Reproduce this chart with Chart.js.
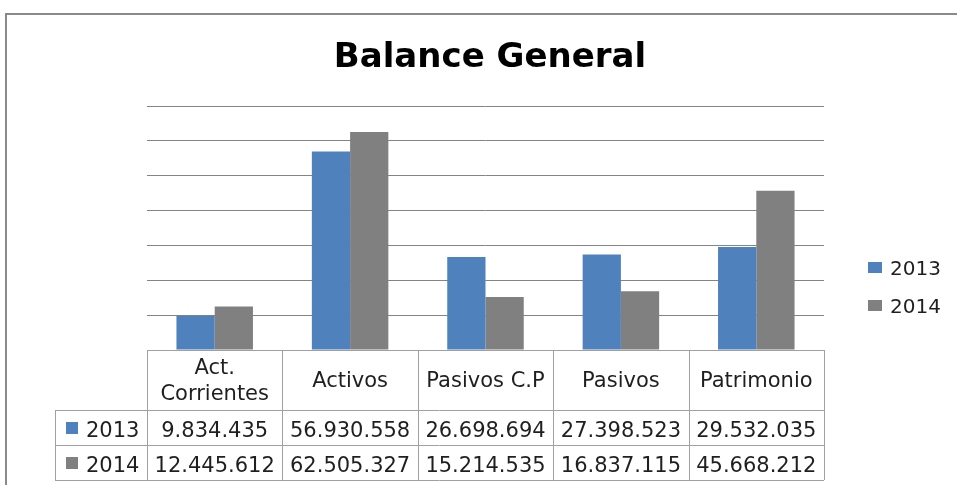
<!DOCTYPE html>
<html>
<head>
<meta charset="utf-8">
<script src="https://cdn.jsdelivr.net/npm/chart.js@4/dist/chart.umd.min.js"></script>
<style>
  html, body { margin: 0; padding: 0; background: #ffffff; }
  #wrap { width: 957px; height: 485px; position: relative; }
</style>
</head>
<body>
<div id="wrap"><canvas id="c" width="957" height="485"></canvas></div>
<script>
const titleText = 'Balance General';
const categories = [['Act.', 'Corrientes'], ['Activos'], ['Pasivos C.P'], ['Pasivos'], ['Patrimonio']];
const seriesNames = ['2013', '2014'];
const values2013 = [9834435, 56930558, 26698694, 27398523, 29532035];
const values2014 = [12445612, 62505327, 15214535, 16837115, 45668212];
const seriesColors = ['#4F81BD', '#808080'];
const yMin = 0;
const yMax = 70000000;
const yStep = 10000000;

function fmt(n) {
  return String(n).replace(/\B(?=(\d{3})+(?!\d))/g, '.');
}

const FONT = '"DejaVu Sans", Verdana, sans-serif';
const TEXT = '#1f1f1f';

const decorPlugin = {
  id: 'decor',
  afterDraw(chart) {
    const ctx = chart.ctx;
    const xs = chart.scales.x;
    const area = chart.chartArea;
    const n = categories.length;
    const cw = (area.right - area.left) / n;
    ctx.save();
    // outer frame
    ctx.strokeStyle = '#8a8a8a';
    ctx.lineWidth = 2;
    ctx.beginPath();
    ctx.moveTo(6, 485);
    ctx.lineTo(6, 14);
    ctx.lineTo(957, 14);
    ctx.stroke();

    // title
    ctx.fillStyle = '#000000';
    ctx.font = 'bold 34px ' + FONT;
    ctx.textAlign = 'center';
    ctx.textBaseline = 'alphabetic';
    ctx.fillText(titleText, 490, 67);

    // legend
    ctx.font = '20px ' + FONT;
    ctx.textAlign = 'left';
    const legBase = [275, 313];
    seriesNames.forEach((s, i) => {
      ctx.fillStyle = seriesColors[i];
      ctx.fillRect(868, legBase[i] - 13, 14, 11);
      ctx.fillStyle = TEXT;
      ctx.fillText(s, 890, legBase[i]);
    });

    // data table
    const top = area.bottom;
    const rowH = [60, 35, 35];
    const tableLeft = 55;
    const y1 = top + rowH[0];
    const y2 = y1 + rowH[1];
    const y3 = y2 + rowH[2];
    ctx.strokeStyle = '#a0a0a0';
    ctx.lineWidth = 1;
    ctx.beginPath();
    ctx.moveTo(area.left, top + 0.5); ctx.lineTo(area.right, top + 0.5);
    ctx.moveTo(tableLeft, y1 + 0.5); ctx.lineTo(area.right, y1 + 0.5);
    ctx.moveTo(tableLeft, y2 + 0.5); ctx.lineTo(area.right, y2 + 0.5);
    ctx.moveTo(tableLeft, y3 + 0.5); ctx.lineTo(area.right, y3 + 0.5);
    ctx.moveTo(tableLeft + 0.5, y1); ctx.lineTo(tableLeft + 0.5, y3);
    for (let i = 0; i <= n; i++) {
      const x = Math.round(area.left + i * cw) + 0.5;
      ctx.moveTo(x, top); ctx.lineTo(x, y3);
    }
    ctx.stroke();

    ctx.fillStyle = TEXT;
    ctx.font = '21px ' + FONT;
    ctx.textAlign = 'center';
    ctx.textBaseline = 'alphabetic';
    const lh = 26;
    for (let i = 0; i < n; i++) {
      const cx = xs.getPixelForValue(i);
      const lines = categories[i];
      const base = top + 37 - (lines.length - 1) * lh / 2;
      lines.forEach((ln, k) => ctx.fillText(ln, cx, base + k * lh));
      ctx.fillText(fmt(values2013[i]), cx, y1 + 27);
      ctx.fillText(fmt(values2014[i]), cx, y2 + 27);
    }
    ctx.textAlign = 'left';
    [y1, y2].forEach((ry, i) => {
      ctx.fillStyle = seriesColors[i];
      ctx.fillRect(66, ry + 12, 12, 12);
      ctx.fillStyle = TEXT;
      ctx.fillText(seriesNames[i], 86, ry + 27);
    });
    ctx.restore();
  }
};

new Chart(document.getElementById('c'), {
  type: 'bar',
  data: {
    labels: categories,
    datasets: [
      { label: seriesNames[0], data: values2013, backgroundColor: seriesColors[0], borderWidth: 0 },
      { label: seriesNames[1], data: values2014, backgroundColor: seriesColors[1], borderWidth: 0 }
    ]
  },
  options: {
    responsive: false,
    animation: false,
    devicePixelRatio: 1,
    layout: { padding: { left: 147, right: 133, top: 106, bottom: 135 } },
    plugins: { legend: { display: false }, title: { display: false }, tooltip: { enabled: false } },
    datasets: { bar: { categoryPercentage: 0.565, barPercentage: 1.0 } },
    scales: {
      x: { display: false },
      y: {
        min: yMin, max: yMax,
        ticks: { display: false, stepSize: yStep },
        border: { display: false },
        grid: { color: '#848484', lineWidth: 1, drawTicks: false }
      }
    }
  },
  plugins: [decorPlugin]
});
</script>
</body>
</html>
